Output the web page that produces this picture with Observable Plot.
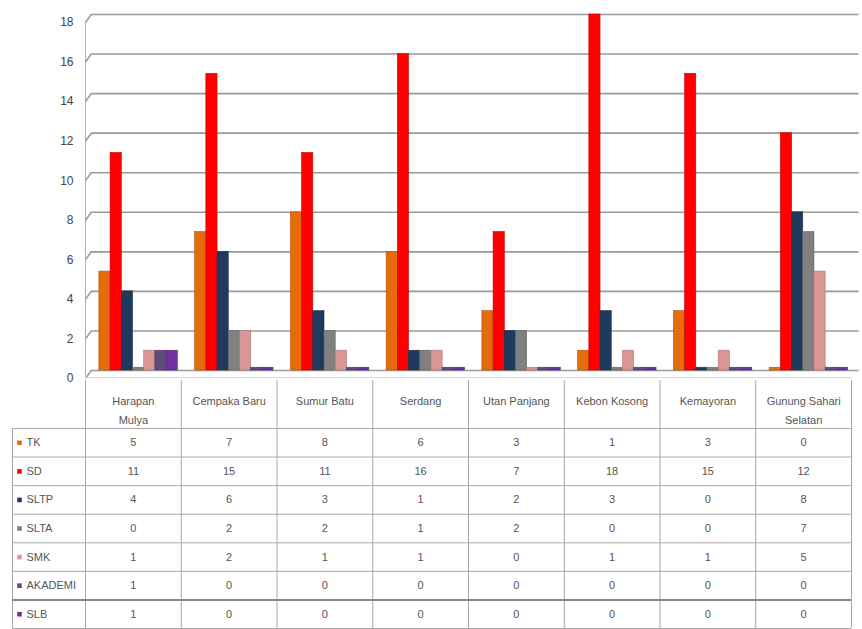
<!DOCTYPE html>
<html>
<head>
<meta charset="utf-8">
<script src="https://cdn.jsdelivr.net/npm/d3@7"></script>
<script src="https://cdn.jsdelivr.net/npm/@observablehq/plot@0.6"></script>
<style>
  html, body { margin: 0; padding: 0; background: #fff; }
  #wrap { width: 862px; height: 629px; overflow: hidden; }
  #wrap svg { display: block; overflow: visible; }
</style>
</head>
<body>
<div id="wrap"></div>
<script>
const categories = ["Harapan Mulya", "Cempaka Baru", "Sumur Batu", "Serdang", "Utan Panjang", "Kebon Kosong", "Kemayoran", "Gunung Sahari Selatan"];
const headerLabels = ["Harapan\nMulya", "Cempaka Baru", "Sumur Batu", "Serdang", "Utan Panjang", "Kebon Kosong", "Kemayoran", "Gunung Sahari\nSelatan"];
const series = ["TK", "SD", "SLTP", "SLTA", "SMK", "AKADEMI", "SLB"];
const TK      = [5, 7, 8, 6, 3, 1, 3, 0];
const SD      = [11, 15, 11, 16, 7, 18, 15, 12];
const SLTP    = [4, 6, 3, 1, 2, 3, 0, 8];
const SLTA    = [0, 2, 2, 1, 2, 0, 0, 7];
const SMK     = [1, 2, 1, 1, 0, 1, 1, 5];
const AKADEMI = [1, 0, 0, 0, 0, 0, 0, 0];
const SLB     = [1, 0, 0, 0, 0, 0, 0, 0];
const yTicks = [0, 2, 4, 6, 8, 10, 12, 14, 16, 18];
const seriesColors = ["#E46C0A", "#FF0000", "#1F3A5F", "#808080", "#D99694", "#5F4B7C", "#7030A0"];

const values = [TK, SD, SLTP, SLTA, SMK, AKADEMI, SLB];
const rows = [];
series.forEach((s, si) => {
  categories.forEach((c, ci) => rows.push({series: s, si, category: c, ci, value: values[si][ci]}));
});

const font = "'Liberation Sans', Arial, sans-serif";
const colorScale = {domain: series, range: seriesColors};

// bar layout inside each category slot (in category units)
const barOffset = 0.145, barW = 0.117;

const chart = Plot.plot({
  width: 862, height: 380,
  marginLeft: 85, marginRight: 11, marginTop: 14, marginBottom: 10,
  style: {fontFamily: font, fontSize: "12px", background: "transparent", overflow: "visible"},
  x: {domain: [0, 8], axis: null},
  y: {domain: [0, 18], axis: null},
  color: colorScale,
  marks: [
    Plot.ruleY(yTicks, {x1: 0.06, x2: 8.08, stroke: "#9a9a9a", strokeWidth: 1.6}),
    Plot.link(yTicks, {x1: 0, y1: d => d - 0.4, x2: 0.06, y2: d => d, stroke: "#9a9a9a", strokeWidth: 1.6}),
    Plot.ruleX([0], {y1: -0.4, y2: 17.6, stroke: "#b0b0b0", strokeWidth: 1}),
    Plot.ruleY([0], {x1: 0, x2: 8.02, dy: 7, stroke: "#d8d8e8", strokeWidth: 1}),
    Plot.text(yTicks, {x: 0, y: d => d, text: d => String(d), dx: -12, dy: 8, textAnchor: "end", fill: "#444", fontSize: 12}),
    Plot.rect(rows, {
      x1: d => d.ci + barOffset + d.si * barW,
      x2: d => d.ci + barOffset + (d.si + 1) * barW,
      y1: 0,
      y2: d => d.value > 0 ? d.value : 0.14,
      fill: "series",
      stroke: d => d3.color(seriesColors[d.si]).darker(0.7).formatHex(),
      strokeWidth: 0.6
    })
  ]
});

const tableTop = -1.68;
const table = Plot.plot({
  width: 862, height: 249,
  marginLeft: 85, marginRight: 11, marginTop: 0, marginBottom: 1,
  style: {fontFamily: font, fontSize: "11px", background: "transparent"},
  x: {domain: [0, 8], axis: null},
  y: {domain: [tableTop, 7], reverse: true, axis: null},
  color: colorScale,
  marks: [
    Plot.ruleX(d3.range(0, 9), {y1: tableTop, y2: 7, stroke: "#a8a8a8", strokeWidth: 1}),
    Plot.ruleX([0], {y1: 0, y2: 7, dx: -73, stroke: "#a8a8a8", strokeWidth: 1}),
    Plot.ruleY([0, 1, 2, 3, 4, 5, 7], {x1: 0, x2: 8, insetLeft: -73, stroke: "#a8a8a8", strokeWidth: 1}),
    Plot.ruleY([6], {x1: 0, x2: 8, insetLeft: -73, stroke: "#888", strokeWidth: 2}),
    Plot.text(headerLabels, {x: (d, i) => i + 0.5, y: tableTop, text: d => d, lineAnchor: "top", dy: 11, lineHeight: 1.75, fill: "#555", fontSize: 11}),
    Plot.dot(series, {x: 0, y: (d, i) => i + 0.5, dx: -66, symbol: "square", r: 2.6, fill: d => d}),
    Plot.text(series, {x: 0, y: (d, i) => i + 0.5, dx: -59, text: d => d, textAnchor: "start", fill: "#555", fontSize: 11}),
    Plot.text(rows, {x: d => d.ci + 0.5, y: d => d.si + 0.5, text: d => String(d.value), fill: "#555", fontSize: 11})
  ]
});

const wrap = document.getElementById("wrap");
wrap.appendChild(chart);
wrap.appendChild(table);
</script>
</body>
</html>
